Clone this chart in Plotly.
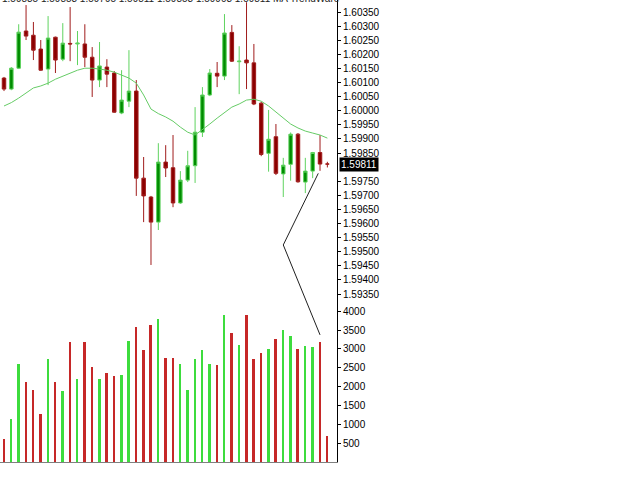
import plotly.graph_objects as go

# ---------------- data ----------------
idx = list(range(45))
opens = [1.60116, 1.60077, 1.60151, 1.60283, 1.60268, 1.60219, 1.60148, 1.60261, 1.60183, 1.60239,
         1.60237, 1.60237, 1.60190, 1.60109, 1.60155, 1.60134, 1.59992, 1.60034, 1.60070, 1.59761,
         1.59694, 1.59605, 1.59818, 1.59798, 1.59673, 1.59754, 1.59805, 1.59924, 1.60056, 1.60133,
         1.60123, 1.60278, 1.60174, 1.60180, 1.60170, 1.60027, 1.59849, 1.59908, 1.59776, 1.59810,
         1.59917, 1.59747, 1.59786, 1.59852, 1.59811]
highs = [1.60120, 1.60155, 1.60307, 1.60375, 1.60315, 1.60251, 1.60336, 1.60263, 1.60311, 1.60368,
         1.60283, 1.60307, 1.60226, 1.60244, 1.60183, 1.60141, 1.60144, 1.60215, 1.60109, 1.59836,
         1.59698, 1.59885, 1.59878, 1.59914, 1.59786, 1.59858, 1.60013, 1.60084, 1.60148, 1.60173,
         1.60343, 1.60304, 1.60229, 1.60385, 1.60237, 1.60032, 1.60003, 1.59953, 1.59833, 1.59923,
         1.59921, 1.59833, 1.59854, 1.59914, 1.59819]
lows = [1.60070, 1.60073, 1.60148, 1.60251, 1.60180, 1.60142, 1.60091, 1.60134, 1.60176, 1.60176,
        1.60162, 1.60155, 1.60049, 1.60084, 1.60084, 1.59993, 1.59988, 1.60013, 1.59698, 1.59605,
        1.59453, 1.59577, 1.59765, 1.59658, 1.59670, 1.59747, 1.59744, 1.59907, 1.60052, 1.60084,
        1.60109, 1.60173, 1.60059, 1.60077, 1.60020, 1.59839, 1.59784, 1.59772, 1.59694, 1.59752,
        1.59745, 1.59708, 1.59761, 1.59787, 1.59799]
closes = [1.60077, 1.60151, 1.60279, 1.60265, 1.60215, 1.60144, 1.60258, 1.60180, 1.60240, 1.60237,
          1.60240, 1.60190, 1.60109, 1.60159, 1.60130, 1.59995, 1.60038, 1.60070, 1.59761, 1.59698,
          1.59605, 1.59818, 1.59797, 1.59673, 1.59754, 1.59805, 1.59924, 1.60056, 1.60134, 1.60123,
          1.60276, 1.60176, 1.60176, 1.60170, 1.60024, 1.59845, 1.59899, 1.59778, 1.59807, 1.59917,
          1.59748, 1.59786, 1.59852, 1.59811, 1.59811]
volumes = [600, 1130, 2610, 2130, 1920, 1260, 2720, 2130, 1870, 3190,
           2210, 3170, 2530, 2210, 2370, 2290, 2320, 3220, 3590, 2960,
           3620, 3800, 2750, 2750, 2590, 1910, 2720, 2980, 2590, 2560,
           3890, 3410, 3090, 3890, 2720, 2880, 3000, 3260, 3510, 3350,
           3000, 3070, 3040, 3190, 690]
ma_values = [1.60017, 1.60029, 1.60045, 1.60063, 1.60081, 1.60088, 1.60098, 1.60112, 1.60123, 1.60134,
             1.60144, 1.60151, 1.60151, 1.60148, 1.60144, 1.60137, 1.60127, 1.60116, 1.60098, 1.60056,
             1.60006, 1.59990, 1.59978, 1.59963, 1.59942, 1.59924, 1.59914, 1.59932, 1.59953, 1.59974,
             1.59995, 1.60013, 1.60024, 1.60038, 1.60041, 1.60034, 1.60017, 1.59995, 1.59974, 1.59953,
             1.59939, 1.59928, 1.59921, 1.59914, 1.59903]
zigzag_x = [42.76, 38.0, 43.0]
zigzag_y = [1.59778, 1.59524, 1.59205]
# 1.59800 sits under the last-price box in the reference, so it is not labelled
price_ticks = [1.59350, 1.59400, 1.59450, 1.59500, 1.59550, 1.59600, 1.59650, 1.59700, 1.59750,
               1.59850, 1.59900, 1.59950, 1.60000, 1.60050, 1.60100, 1.60150, 1.60200,
               1.60250, 1.60300, 1.60350]
volume_ticks = [500, 1000, 1500, 2000, 2500, 3000, 3500, 4000]
last_price = 1.59811
header_text = "1.59835 1.59853 1.59795 1.59811 1.59853 1.59903 1.59811 MA TrendWare"

# ---------------- styling ----------------
GREEN_LINE = "#5fd35f"
GREEN_FILL = "#008c00"
RED_LINE = "#a01c1c"
RED_FILL = "#8b0000"
VOL_GREEN = "#3ddc3d"
VOL_RED = "#c62828"
FONT = "Liberation Sans, Arial, sans-serif"

vol_colors = [VOL_GREEN if c > o else VOL_RED for o, c in zip(opens, closes)]

fig = go.Figure()

fig.add_trace(go.Bar(
    x=idx, y=volumes, width=0.27, marker=dict(color=vol_colors, line=dict(width=0)),
    yaxis="y2", hoverinfo="skip", showlegend=False))

fig.add_trace(go.Scatter(
    x=idx, y=ma_values, mode="lines", line=dict(color="#66cc66", width=1),
    hoverinfo="skip", showlegend=False))

fig.add_trace(go.Candlestick(
    x=idx, open=opens, high=highs, low=lows, close=closes,
    increasing=dict(line=dict(color=GREEN_LINE, width=1), fillcolor=GREEN_FILL),
    decreasing=dict(line=dict(color=RED_LINE, width=1), fillcolor=RED_FILL),
    whiskerwidth=0, hoverinfo="skip", showlegend=False))

fig.add_trace(go.Scatter(
    x=zigzag_x, y=zigzag_y, mode="lines", line=dict(color="#202020", width=1),
    hoverinfo="skip", showlegend=False))

fig.update_layout(
    width=625, height=483,
    margin=dict(l=0, r=288, t=0, b=21),
    paper_bgcolor="white", plot_bgcolor="white",
    font=dict(family=FONT, size=10, color="black"),
    boxgap=0.32,
    bargap=0,
    xaxis=dict(range=[-0.544, 45.31], showgrid=False, zeroline=False,
               showticklabels=False, ticks="", showline=True, linecolor="#808080",
               linewidth=1, rangeslider=dict(visible=False), fixedrange=True),
    yaxis=dict(range=[1.58754, 1.60393], side="right", showgrid=False, zeroline=False,
               tickvals=price_ticks, tickformat=".5f", ticks="outside", ticklen=3,
               tickcolor="black", showline=True, linecolor="black", linewidth=1,
               tickfont=dict(size=10, family=FONT, color="black"), fixedrange=True),
    yaxis2=dict(range=[0, 12250], overlaying="y", side="right", showgrid=False,
                zeroline=False, tickvals=volume_ticks, ticks="outside", ticklen=3,
                tickcolor="black", showline=True, linecolor="black", linewidth=1,
                tickfont=dict(size=10, family=FONT, color="black"), fixedrange=True),
    showlegend=False,
)

fig.add_annotation(
    x=1, xref="paper", y=last_price, yref="y", xanchor="left", yanchor="middle",
    text=f"{last_price:.5f}", showarrow=False, xshift=2,
    font=dict(size=10, family=FONT, color="white"),
    bgcolor="black", borderpad=1)

fig.add_annotation(
    x=0, xref="paper", y=1, yref="paper", xanchor="left", yanchor="bottom",
    yshift=-6, text=header_text, showarrow=False,
    font=dict(size=10, family=FONT, color="#222222"))

fig.write_html("out.html")
